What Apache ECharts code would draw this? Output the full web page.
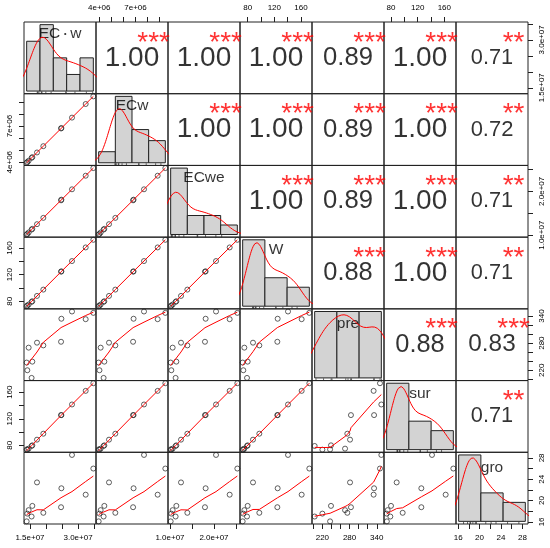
<!DOCTYPE html>
<html><head><meta charset="utf-8">
<script src="https://cdn.jsdelivr.net/npm/echarts@6/dist/echarts.min.js"></script>
<style>html,body{margin:0;padding:0;background:#fff}#c{width:550px;height:548px}</style>
</head><body><div id="c"></div>
<script>
// ---------------- data (12 observations) ----------------
const varNames = ['EC·w', 'ECw', 'ECwe', 'W', 'pre', 'sur', 'gro'];
const ECdotw = [1.551e7, 1.418e7, 1.397e7, 1.574e7, 1.459e7, 1.917e7, 1.719e7, 2.470e7, 2.480e7, 3.238e7, 3.477e7, 2.811e7];
const ECw    = [4.358e6, 4.016e6, 3.950e6, 4.419e6, 4.116e6, 5.330e6, 4.806e6, 6.800e6, 6.840e6, 8.835e6, 9.470e6, 7.704e6];
const ECwe   = [1.128e7, 1.031e7, 1.016e7, 1.145e7, 1.061e7, 1.395e7, 1.251e7, 1.795e7, 1.810e7, 2.356e7, 2.530e7, 2.046e7];
const W      = [79, 73.5, 72.5, 80, 75, 97.5, 88, 124.5, 125, 161, 172.5, 140.5];
const pre    = [203, 220, 237, 239, 270, 275, 281, 283, 334, 333, 347, 350];
const sur    = [79, 73.5, 73.8, 80, 75, 97.5, 88.5, 125.5, 125.5, 162, 173.5, 141.5];
const gro    = [17.0, 17.55, 16.1, 19.0, 18.2, 17.7, 23.4, 18.75, 22.3, 21.1, 26.0, 28.55];

// histogram breaks
const brECdotw = [1.0e7, 1.5e7, 2.0e7, 2.5e7, 3.0e7, 3.5e7];
const brECw    = [2e6, 4e6, 6e6, 8e6, 10e6];
const brECwe   = [1.0e7, 1.5e7, 2.0e7, 2.5e7, 3.0e7];
const brW      = [50, 100, 150, 200];
const brPre    = [200, 250, 300, 350];
const brSur    = [50, 100, 150, 200];
const brGro    = [15, 20, 25, 30];

// correlation texts (upper triangle, row by row) and significance stars
const corText  = ['1.00','1.00','1.00','0.89','1.00','0.71',
                  '1.00','1.00','0.89','1.00','0.72',
                  '1.00','0.89','1.00','0.71',
                  '0.88','1.00','0.71',
                  '0.88','0.83',
                  '0.71'];
const corStars = ['***','***','***','***','***','**',
                  '***','***','***','***','**',
                  '***','***','***','**',
                  '***','***','**',
                  '***','***',
                  '**'];

// axis ticks and labels
const tkECdotw = [1.5e7, 2.0e7, 2.5e7, 3.0e7, 3.5e7];
const lbECdotw = [1.5e7, 3.0e7];
const ltECdotw = ['1.5e+07', '3.0e+07'];
const tkECw = [4e6, 5e6, 6e6, 7e6, 8e6, 9e6];
const lbECw = [4e6, 7e6];
const ltECw = ['4e+06', '7e+06'];
const tkECwe = [1.0e7, 1.5e7, 2.0e7, 2.5e7];
const lbECwe = [1.0e7, 2.0e7];
const ltECwe = ['1.0e+07', '2.0e+07'];
const tkW = [80, 100, 120, 140, 160];
const lbW = [80, 120, 160];
const ltW = ['80', '120', '160'];
const tkPre = [200, 220, 240, 260, 280, 300, 320, 340];
const lbPre = [220, 280, 340];
const ltPre = ['220', '280', '340'];
const tkSur = [80, 100, 120, 140, 160];
const lbSur = [80, 120, 160];
const ltSur = ['80', '120', '160'];
const tkGro = [16, 18, 20, 22, 24, 26, 28];
const lbGro = [16, 20, 24, 28];
const ltGro = ['16', '20', '24', '28'];

// ---------------- helpers ----------------
const vars = [ECdotw, ECw, ECwe, W, pre, sur, gro];
const breaks = [brECdotw, brECw, brECwe, brW, brPre, brSur, brGro];
const ticks = [[tkECdotw, lbECdotw, ltECdotw], [tkECw, lbECw, ltECw], [tkECwe, lbECwe, ltECwe],
               [tkW, lbW, ltW], [tkPre, lbPre, ltPre], [tkSur, lbSur, ltSur], [tkGro, lbGro, ltGro]];
const FONT = '"Liberation Sans", Arial, Helvetica, sans-serif';
const CJK = '"Noto Sans CJK SC", "Noto Sans CJK JP", sans-serif';

function padRange(a) {
  const mn = Math.min(...a), mx = Math.max(...a), d = (mx - mn) * 0.04;
  return [mn - d, mx + d];
}
function quant(s, p) {
  const h = (s.length - 1) * p, lo = Math.floor(h), hi = Math.min(lo + 1, s.length - 1);
  return s[lo] + (h - lo) * (s[hi] - s[lo]);
}
function bwNrd0(x) {
  const n = x.length, m = x.reduce((a, b) => a + b, 0) / n;
  const sd = Math.sqrt(x.reduce((a, b) => a + (b - m) * (b - m), 0) / (n - 1));
  const s = x.slice().sort((a, b) => a - b);
  const iqr = (quant(s, 0.75) - quant(s, 0.25)) / 1.34;
  let lo = Math.min(sd, iqr);
  if (!(lo > 0)) lo = sd || Math.abs(s[0]) || 1;
  return 0.9 * lo * Math.pow(n, -0.2);
}
function density(x) {
  const bw = bwNrd0(x), n = x.length;
  const a = Math.min(...x) - 3 * bw, b = Math.max(...x) + 3 * bw;
  const out = [];
  const K = 300;
  for (let k = 0; k <= K; k++) {
    const t = a + (b - a) * k / K;
    let s = 0;
    for (const v of x) { const z = (t - v) / bw; s += Math.exp(-0.5 * z * z); }
    out.push([t, s / (n * bw * Math.sqrt(2 * Math.PI))]);
  }
  return out;
}
function histo(x, br) {
  const k = br.length - 1, c = new Array(k).fill(0);
  x.forEach(v => {
    for (let b = 0; b < k; b++) {
      if ((v > br[b] || (b === 0 && v >= br[0])) && v <= br[b + 1]) { c[b]++; break; }
    }
  });
  return c.map((cnt, b) => [br[b], br[b + 1], cnt / (x.length * (br[b + 1] - br[b]))]);
}
// port of R's clowess (lowess f=2/3, iter=3)
function lowess(xIn, yIn, f, nsteps) {
  const n = xIn.length;
  const ord = [...Array(n).keys()].sort((a, b) => xIn[a] - xIn[b]);
  const x = [0, ...ord.map(i => xIn[i])], y = [0, ...ord.map(i => yIn[i])];
  const ys = new Array(n + 1).fill(0), rw = new Array(n + 1).fill(0), res = new Array(n + 1).fill(0);
  const delta = 0.01 * (x[n] - x[1]);
  const ns = Math.max(2, Math.min(n, Math.floor(f * n + 1e-7)));
  function lowest(xs, nleft, nright, userw) {
    const w = res, range = x[n] - x[1];
    const h = Math.max(xs - x[nleft], x[nright] - xs), h9 = 0.999 * h, h1 = 0.001 * h;
    let a = 0, j = nleft;
    while (j <= n) {
      w[j] = 0;
      const r = Math.abs(x[j] - xs);
      if (r <= h9) {
        if (r <= h1) w[j] = 1; else { const q = r / h, t = 1 - q * q * q; w[j] = t * t * t; }
        if (userw) w[j] *= rw[j];
        a += w[j];
      } else if (x[j] > xs) break;
      j++;
    }
    const nrt = j - 1;
    if (a <= 0) return null;
    for (j = nleft; j <= nrt; j++) w[j] /= a;
    if (h > 0) {
      a = 0; for (j = nleft; j <= nrt; j++) a += w[j] * x[j];
      let b = xs - a, c = 0;
      for (j = nleft; j <= nrt; j++) c += w[j] * (x[j] - a) * (x[j] - a);
      if (Math.sqrt(c) > 0.001 * range) { b /= c; for (j = nleft; j <= nrt; j++) w[j] *= (b * (x[j] - a) + 1); }
    }
    let v = 0; for (j = nleft; j <= nrt; j++) v += w[j] * y[j];
    return v;
  }
  let iter = 1;
  while (iter <= nsteps + 1) {
    let nleft = 1, nright = ns, last = 0, i = 1;
    for (;;) {
      if (nright < n) {
        const d1 = x[i] - x[nleft], d2 = x[nright + 1] - x[i];
        if (d1 > d2) { nleft++; nright++; continue; }
      }
      const r = lowest(x[i], nleft, nright, iter > 1);
      ys[i] = (r === null) ? y[i] : r;
      if (last < i - 1) {
        const denom = x[i] - x[last];
        for (let j = last + 1; j < i; j++) { const al = (x[j] - x[last]) / denom; ys[j] = al * ys[i] + (1 - al) * ys[last]; }
      }
      last = i;
      const cut = x[last] + delta;
      for (i = last + 1; i <= n; i++) {
        if (x[i] > cut) break;
        if (x[i] === x[last]) { ys[i] = ys[last]; last = i; }
      }
      i = Math.max(last + 1, i - 1);
      if (last >= n) break;
    }
    for (let k = 1; k <= n; k++) res[k] = y[k] - ys[k];
    let sc = 0; for (let k = 1; k <= n; k++) sc += Math.abs(res[k]); sc /= n;
    if (iter > nsteps) break;
    const srt = []; for (let k = 1; k <= n; k++) srt.push(Math.abs(res[k]));
    srt.sort((a, b) => a - b);
    const m1 = Math.floor(n / 2);
    const cmad = (n % 2 === 0) ? 3 * (srt[m1] + srt[n - m1 - 1]) : 6 * srt[m1];
    if (cmad < 1e-7 * sc) break;
    const c9 = 0.999 * cmad, c1 = 0.001 * cmad;
    for (let k = 1; k <= n; k++) {
      const r = Math.abs(res[k]);
      rw[k] = r <= c1 ? 1 : (r <= c9 ? Math.pow(1 - Math.pow(r / cmad, 2), 2) : 0);
    }
    iter++;
  }
  const out = [];
  for (let k = 1; k <= n; k++) out.push([x[k], ys[k]]);
  return out;
}

// ---------------- layout ----------------
const NV = 7, L0 = 24, T0 = 22, PW = 72, PH = (524 - 22) / 7;
const grids = [], xAxes = [], yAxes = [], series = [];
const ranges = vars.map(padRange);
let ci = 0;

for (let i = 0; i < NV; i++) {
  for (let j = 0; j < NV; j++) {
    const g = i * NV + j;
    grids.push({ left: L0 + j * PW, top: T0 + i * PH, width: PW, height: PH, show: true,
                 borderColor: '#222', borderWidth: 1, backgroundColor: 'transparent' });
    if (i === j) {
      const bins = histo(vars[i], breaks[i]);
      const br = breaks[i];
      const dx = (br[br.length - 1] - br[0]) * 0.04;
      const maxd = Math.max(...bins.map(b => b[2]));
      const ymin = -0.04 * maxd, ymax = maxd * 1.04;
      xAxes.push({ type: 'value', gridIndex: g, min: br[0] - dx, max: br[br.length - 1] + dx, show: false });
      yAxes.push({ type: 'value', gridIndex: g, min: ymin, max: ymax, show: false });
      series.push({
        type: 'custom', xAxisIndex: g, yAxisIndex: g, silent: true,
        renderItem: (params, api) => {
          const p0 = api.coord([api.value(0), 0]), p1 = api.coord([api.value(1), api.value(2)]);
          return { type: 'rect', shape: { x: p0[0], y: p1[1], width: p1[0] - p0[0], height: p0[1] - p1[1] },
                   style: { fill: '#d3d3d3', stroke: '#222', lineWidth: 1 } };
        },
        data: bins
      });
      series.push({ type: 'line', xAxisIndex: g, yAxisIndex: g, data: density(vars[i]), showSymbol: false,
                    symbol: 'none', clip: true, lineStyle: { color: '#ff0000', width: 1 }, silent: true });
      series.push({
        type: 'custom', xAxisIndex: g, yAxisIndex: g, silent: true,
        renderItem: (params, api) => {
          const p = api.coord([api.value(0), ymin]);
          return { type: 'line', shape: { x1: p[0], y1: p[1], x2: p[0], y2: p[1] - 2.2 },
                   style: { stroke: '#222', lineWidth: 0.7 } };
        },
        data: vars[i].map(v => [v, 0])
      });
      // variable label (bbox-centred like R)
      const nm = varNames[i];
      const dy = /[pgq]/.test(nm) ? 3.0 : (/^[a-z]+$/.test(nm) ? 1.5 : 0.2);
      const hasDot = nm.indexOf('·') >= 0;
      const parts = nm.split('·');
      series.push({ type: 'scatter', xAxisIndex: g, yAxisIndex: g, symbolSize: 0, silent: true,
        data: [[(br[0] + br[br.length - 1]) / 2, ymin + 0.8333 * (ymax - ymin)]],
        label: { show: true, position: 'inside', offset: [0, dy],
                 formatter: () => hasDot ? '{a|' + parts[0] + '}{d|\u30FB}{a|' + parts[1] + '}' : nm,
                 fontSize: 15.5, fontFamily: FONT, color: '#000',
                 rich: { a: { fontSize: 15.5, fontFamily: FONT, color: '#000' },
                         d: { fontSize: 10, fontFamily: CJK, color: '#000' } } } });
    } else if (i > j) {
      xAxes.push({ type: 'value', gridIndex: g, min: ranges[j][0], max: ranges[j][1], show: false });
      yAxes.push({ type: 'value', gridIndex: g, min: ranges[i][0], max: ranges[i][1], show: false });
      const pts = vars[j].map((v, k) => [v, vars[i][k]]);
      series.push({ type: 'scatter', xAxisIndex: g, yAxisIndex: g, data: pts, symbol: 'circle', symbolSize: 5,
                    silent: true, itemStyle: { color: 'rgba(0,0,0,0)', borderColor: '#222', borderWidth: 0.9 } });
      series.push({ type: 'line', xAxisIndex: g, yAxisIndex: g, data: lowess(vars[j], vars[i], 2 / 3, 3),
                    showSymbol: false, symbol: 'none', clip: true, silent: true,
                    lineStyle: { color: '#ff0000', width: 1 } });
    } else {
      xAxes.push({ type: 'value', gridIndex: g, min: 0, max: 1, show: false });
      yAxes.push({ type: 'value', gridIndex: g, min: 0, max: 1, show: false });
      const txt = corText[ci], st = corStars[ci];
      ci++;
      const r = Math.abs(parseFloat(txt));
      series.push({ type: 'scatter', xAxisIndex: g, yAxisIndex: g, symbolSize: 0, silent: true,
        data: [[0.5, 0.5]],
        label: { show: true, position: 'inside', formatter: () => txt, fontSize: 28 * (r + 0.3) / 1.3,
                 fontFamily: FONT, color: '#000' } });
      series.push({ type: 'scatter', xAxisIndex: g, yAxisIndex: g, symbolSize: 0, silent: true,
        data: [[0.8, 0.8]],
        label: { show: true, position: 'inside', offset: [0, 6.5], formatter: () => st, fontSize: 28,
                 fontFamily: FONT, color: '#ff0000' } });
    }
  }
}

// outer axes (alternating like R pairs)
function tickAxis(isY, gridIndex, pos, range, tk, lv, lt) {
  return {
    type: 'value', gridIndex, position: pos, min: range[0], max: range[1],
    axisLine: { show: false }, splitLine: { show: false },
    axisTick: { show: true, length: 5, customValues: tk, lineStyle: { color: '#222', width: 1 } },
    axisLabel: { show: true, customValues: lv, fontSize: 8, color: '#000', fontFamily: FONT,
                 margin: 10, rotate: isY ? 90 : 0,
                 formatter: (v) => { const k = lv.findIndex(u => Math.abs(u - v) <= 1e-6 * Math.abs(u)); return k >= 0 ? lt[k] : ''; } }
  };
}
for (let j = 0; j < NV; j++) {
  const top = (j % 2 === 1);
  const g = (top ? 0 : NV - 1) * NV + j;
  xAxes.push(tickAxis(false, g, top ? 'top' : 'bottom', ranges[j], ticks[j][0], ticks[j][1], ticks[j][2]));
}
for (let i = 0; i < NV; i++) {
  const left = (i % 2 === 1);
  const g = i * NV + (left ? 0 : NV - 1);
  yAxes.push(tickAxis(true, g, left ? 'left' : 'right', ranges[i], ticks[i][0], ticks[i][1], ticks[i][2]));
}

const chart = echarts.init(document.getElementById('c'), null, { renderer: 'canvas' });
chart.setOption({ animation: false, backgroundColor: '#fff', grid: grids, xAxis: xAxes, yAxis: yAxes, series });
</script>
</body></html>
